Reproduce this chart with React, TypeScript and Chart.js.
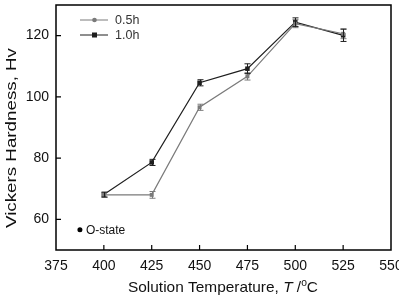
import React, { useEffect, useRef } from "react";
import { Chart, registerables } from "chart.js";

Chart.register(...registerables);

const temperatures = [400, 425, 450, 475, 500, 525];
const hardness05h = [68, 68, 96.6, 106.7, 123.9, 120.6];
const error05h = [0.8, 1.1, 1.0, 1.2, 1.3, 1.6];
const hardness10h = [68.1, 78.6, 104.6, 109.2, 124.4, 120.1];
const error10h = [0.8, 1.0, 1.0, 1.6, 1.4, 2.0];
const oStateTemp = [387.5];
const oStateHardness = [56.6];
const yTickValues = [60, 80, 100, 120];
const seriesLabels = ["0.5h", "1.0h"];

const FONT = "'Liberation Sans', Arial, sans-serif";
const GREY = "#7a7a7a";
const DARK = "#1e1e1e";

const decorPlugin = {
  id: "decor",
  afterDatasetsDraw(chart: any) {
    const { ctx, chartArea: a, scales } = chart;
    const xs = scales.x;
    const ys = scales.y;
    ctx.save();

    // error bars
    const bars = [
      { vals: hardness05h, errs: error05h, color: GREY },
      { vals: hardness10h, errs: error10h, color: DARK },
    ];
    bars.forEach((b) => {
      ctx.strokeStyle = b.color;
      ctx.lineWidth = 1;
      temperatures.forEach((t, i) => {
        const px = Math.round(xs.getPixelForValue(t)) + 0.5;
        const top = ys.getPixelForValue(b.vals[i] + b.errs[i]);
        const bot = ys.getPixelForValue(b.vals[i] - b.errs[i]);
        ctx.beginPath();
        ctx.moveTo(px, top);
        ctx.lineTo(px, bot);
        ctx.moveTo(px - 3, top);
        ctx.lineTo(px + 3, top);
        ctx.moveTo(px - 3, bot);
        ctx.lineTo(px + 3, bot);
        ctx.stroke();
      });
    });

    // frame
    ctx.strokeStyle = "#000";
    ctx.lineWidth = 1.5;
    ctx.strokeRect(a.left, a.top, a.right - a.left, a.bottom - a.top);

    // inward ticks
    ctx.lineWidth = 1.2;
    ctx.beginPath();
    for (let v = 400; v <= 525; v += 25) {
      const px = xs.getPixelForValue(v);
      ctx.moveTo(px, a.bottom);
      ctx.lineTo(px, a.bottom - 5);
    }
    yTickValues.forEach((v) => {
      const py = ys.getPixelForValue(v);
      ctx.moveTo(a.left, py);
      ctx.lineTo(a.left + 5, py);
    });
    ctx.stroke();

    // legend
    const legendItems = [
      { label: seriesLabels[0], color: GREY, y: 20, square: false },
      { label: seriesLabels[1], color: DARK, y: 35, square: true },
    ];
    ctx.font = `12.5px ${FONT}`;
    ctx.textBaseline = "middle";
    legendItems.forEach((it) => {
      ctx.strokeStyle = it.color;
      ctx.fillStyle = it.color;
      ctx.lineWidth = 1;
      ctx.beginPath();
      ctx.moveTo(80, it.y);
      ctx.lineTo(108, it.y);
      ctx.stroke();
      if (it.square) {
        ctx.fillRect(92, it.y - 2.5, 5, 5);
      } else {
        ctx.beginPath();
        ctx.arc(94.5, it.y, 2.3, 0, Math.PI * 2);
        ctx.fill();
      }
      ctx.fillStyle = "#333";
      ctx.fillText(it.label, 115, it.y + 0.5);
    });

    // O-state label
    const ox = xs.getPixelForValue(oStateTemp[0]);
    const oy = ys.getPixelForValue(oStateHardness[0]);
    ctx.fillStyle = "#111";
    ctx.font = `12px ${FONT}`;
    ctx.fillText("O-state", ox + 6, oy + 0.5);

    // y title, stretched along its length
    const yTitle = "Vickers Hardness, Hv";
    ctx.save();
    ctx.font = `14.5px ${FONT}`;
    const yw = ctx.measureText(yTitle).width;
    ctx.translate(12, 138);
    ctx.rotate(-Math.PI / 2);
    ctx.scale(180 / yw, 1);
    ctx.textAlign = "center";
    ctx.textBaseline = "middle";
    ctx.fillStyle = "#111";
    ctx.fillText(yTitle, 0, 0);
    ctx.restore();

    // x title with italic T and superscript degree
    const parts = [
      { text: "Solution Temperature, ", font: `15px ${FONT}`, dy: 0 },
      { text: "T", font: `italic 15px ${FONT}`, dy: 0 },
      { text: " /", font: `15px ${FONT}`, dy: 0 },
      { text: "o", font: `10px ${FONT}`, dy: -6 },
      { text: "C", font: `15px ${FONT}`, dy: 0 },
    ];
    let total = 0;
    parts.forEach((p) => {
      ctx.font = p.font;
      total += ctx.measureText(p.text).width;
    });
    ctx.save();
    ctx.translate(128, 292);
    ctx.scale(190 / total, 1);
    let x = 0;
    ctx.textAlign = "left";
    ctx.textBaseline = "alphabetic";
    ctx.fillStyle = "#111";
    parts.forEach((p) => {
      ctx.font = p.font;
      ctx.fillText(p.text, x, p.dy);
      x += ctx.measureText(p.text).width;
    });
    ctx.restore();

    ctx.restore();
  },
};

export default function App() {
  const canvasRef = useRef<HTMLCanvasElement | null>(null);

  useEffect(() => {
    if (!canvasRef.current) return;
    const chart = new Chart(canvasRef.current, {
      type: "line",
      data: {
        datasets: [
          {
            label: seriesLabels[0],
            data: temperatures.map((t, i) => ({ x: t, y: hardness05h[i] })),
            borderColor: GREY,
            backgroundColor: GREY,
            borderWidth: 1.2,
            pointStyle: "rect",
            pointRadius: 2.8,
            pointBorderWidth: 0,
          },
          {
            label: seriesLabels[1],
            data: temperatures.map((t, i) => ({ x: t, y: hardness10h[i] })),
            borderColor: DARK,
            backgroundColor: DARK,
            borderWidth: 1.2,
            pointStyle: "rect",
            pointRadius: 3.2,
            pointBorderWidth: 0,
          },
          {
            label: "O-state",
            data: oStateTemp.map((t, i) => ({ x: t, y: oStateHardness[i] })),
            showLine: false,
            backgroundColor: "#000",
            borderColor: "#000",
            pointRadius: 2.5,
            pointBorderWidth: 0,
          },
        ],
      },
      options: {
        animation: false,
        responsive: true,
        maintainAspectRatio: false,
        layout: { padding: { top: 5, right: 8, left: 0, bottom: 0 } },
        plugins: { legend: { display: false }, tooltip: { enabled: false } },
        scales: {
          x: {
            type: "linear",
            min: 375,
            max: 550,
            grid: { display: false, drawTicks: false },
            border: { display: false },
            ticks: {
              stepSize: 25,
              padding: 8,
              color: "#111",
              font: { family: FONT, size: 14 },
              maxRotation: 0,
            },
            afterFit(scale: any) {
              scale.height = 46;
              scale.paddingLeft = 0;
              scale.paddingRight = 0;
            },
          },
          y: {
            type: "linear",
            min: 50,
            max: 130,
            grid: { display: false, drawTicks: false },
            border: { display: false },
            ticks: {
              padding: 7,
              color: "#111",
              font: { family: FONT, size: 14 },
            },
            afterBuildTicks(scale: any) {
              scale.ticks = yTickValues.map((v) => ({ value: v }));
            },
            afterFit(scale: any) {
              scale.width = 56;
              scale.paddingTop = 0;
              scale.paddingBottom = 0;
            },
          },
        },
      },
      plugins: [decorPlugin],
    });
    return () => chart.destroy();
  }, []);

  return (
    <div
      style={{
        position: "fixed",
        left: 0,
        top: 0,
        width: 399,
        height: 296,
        background: "#fff",
      }}
    >
      <canvas ref={canvasRef} />
    </div>
  );
}
